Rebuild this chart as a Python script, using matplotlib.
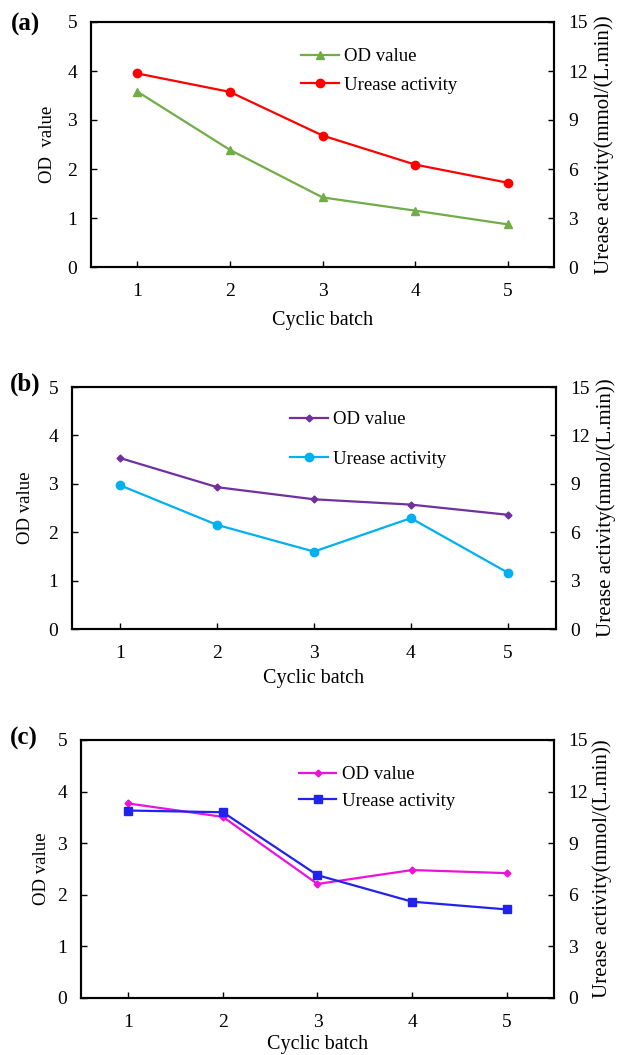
import matplotlib.pyplot as plt

plt.rcParams['font.family'] = ['Liberation Serif', 'DejaVu Serif']
plt.rcParams['font.size'] = 14

# data
batch = [1, 2, 3, 4, 5]
od_ticks = [0, 1, 2, 3, 4, 5]
urease_ticks = [0, 3, 6, 9, 12, 15]

od_a = [3.58, 2.39, 1.42, 1.15, 0.87]
urease_a = [11.85, 10.72, 8.05, 6.27, 5.16]

od_b = [3.53, 2.93, 2.68, 2.57, 2.36]
urease_b = [8.90, 6.45, 4.80, 6.87, 3.50]

od_c = [3.77, 3.51, 2.21, 2.48, 2.42]
urease_c = [10.90, 10.80, 7.14, 5.60, 5.15]

W, H = 618, 1055
fig = plt.figure(figsize=(W / 100, H / 100), dpi=100)


def panel(box, tag, tag_xy, od, urease, od_style, ur_style, od_label,
          leg_xy, spacing, ylab_x, y2lab_x, xlab_y):
    left, top, right, bottom = box
    w, h = right - left, bottom - top
    ax = fig.add_axes([left / W, 1 - bottom / H, w / W, h / H])
    ax2 = ax.twinx()

    ax.plot(batch, od, label="OD value", lw=1.6, **od_style)
    ax2.plot(batch, urease, label="Urease activity", lw=1.6, **ur_style)

    ax.set_xlim(0.5, 5.5)
    ax.set_ylim(0, 5)
    ax2.set_ylim(0, 15)
    ax.set_xticks(batch)
    ax.set_yticks(od_ticks)
    ax2.set_yticks(urease_ticks)

    for a in (ax, ax2):
        for s in a.spines.values():
            s.set_linewidth(1.5)
    ax.tick_params(axis='x', direction='in', length=4.5, width=1, pad=11.5,
                   labelsize=14)
    ax.tick_params(axis='y', direction='in', length=4.5, width=1, pad=10,
                   labelsize=14)
    ax2.tick_params(axis='y', direction='in', length=4.5, width=1, pad=10,
                    labelsize=14)

    ax.set_ylabel(od_label, va='center', fontsize=13.5)
    ax.yaxis.set_label_coords((ylab_x - left) / w, 0.5)
    ax2.set_ylabel("Urease activity(mmol/(L.min))", va='center',
                   fontsize=15)
    ax2.yaxis.set_label_coords((y2lab_x - left) / w, 0.5)
    ax.set_xlabel("Cyclic batch", va='center', fontsize=14.5)
    ax.xaxis.set_label_coords(0.5, (bottom - xlab_y) / h)

    h1, l1 = ax.get_legend_handles_labels()
    h2, l2 = ax2.get_legend_handles_labels()
    lx, ly = leg_xy
    ax2.legend(h1 + h2, l1 + l2, loc='upper left',
               bbox_to_anchor=((lx - left) / w, (bottom - ly) / h),
               frameon=False, borderpad=0, borderaxespad=0,
               handlelength=2.0, handletextpad=0.3, labelspacing=spacing,
               numpoints=1, fontsize=13.5)

    fig.text(tag_xy[0] / W, 1 - tag_xy[1] / H, tag, fontsize=18,
             fontweight='bold', ha='center', va='center')


panel((91, 22, 554, 267), "(a)", (25, 24), od_a, urease_a,
      dict(color='#70AD47', marker='^', ms=5.5),
      dict(color='#FF0000', marker='o', ms=6),
      "OD  value", (301, 48), 0.6, 48, 604, 320)

panel((72, 387, 556, 629), "(b)", (25, 384), od_b, urease_b,
      dict(color='#7030A0', marker='D', ms=3.5),
      dict(color='#00B0F0', marker='o', ms=6),
      "OD value", (290, 411), 1.2, 26, 606, 678)

panel((81, 740, 554, 998), "(c)", (24, 738), od_c, urease_c,
      dict(color='#EE11DD', marker='D', ms=3.5),
      dict(color='#2222EE', marker='s', ms=5.5),
      "OD value", (299, 766), 0.5, 41, 602, 1044)

fig.savefig("out.png", dpi=100)
